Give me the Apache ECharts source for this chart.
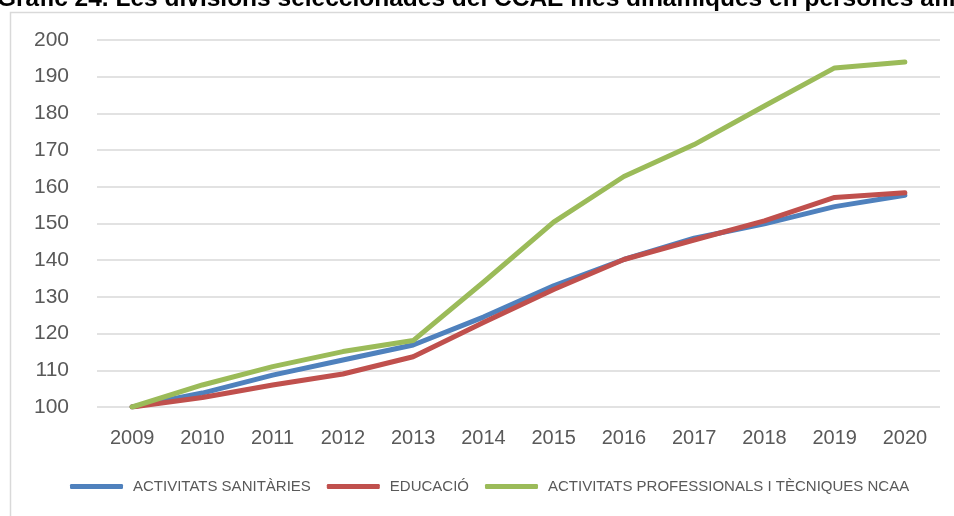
<!DOCTYPE html>
<html><head><meta charset="utf-8">
<script src="https://cdn.jsdelivr.net/npm/echarts@6/dist/echarts.min.js"></script>
<style>html,body{margin:0;padding:0;background:#fff}#c{width:954px;height:516px}</style>
</head><body><div id="c"></div>
<script>
const titleText = 'Gràfic 24. Les divisions seleccionades del CCAE més dinàmiques en persones afiliades';
const years = ['2009','2010','2011','2012','2013','2014','2015','2016','2017','2018','2019','2020'];
const sanitaries = [100, 103.8, 108.7, 112.8, 116.9, 124.5, 133.0, 140.2, 146.0, 149.9, 154.6, 157.7];
const educacio = [100, 102.6, 106.0, 109.0, 113.7, 123.0, 132.0, 140.2, 145.5, 150.7, 157.1, 158.4];
const professionals = [100, 106.0, 111.0, 115.1, 118.1, 134.0, 150.4, 162.8, 171.5, 182.0, 192.4, 194.0];
const seriesNames = ['ACTIVITATS SANITÀRIES', 'EDUCACIÓ', 'ACTIVITATS PROFESSIONALS I TÈCNIQUES NCAA'];
const colors = ['#4f81bd', '#c0504d', '#9bbb59'];
const seriesData = [sanitaries, educacio, professionals];

const chart = echarts.init(document.getElementById('c'));
chart.setOption({
  animation: false,
  title: {
    text: titleText, left: -8, top: -18,
    textStyle: {fontFamily: 'Liberation Sans', fontWeight: 'bold', fontSize: 24.5, color: '#000'}
  },
  graphic: [{
    type: 'rect', shape: {x: 10.5, y: 12.5, width: 1000, height: 600},
    style: {fill: 'none', stroke: '#d9d9d9', lineWidth: 1.5}, silent: true
  }],
  grid: {left: 97, right: 14, top: 40, bottom: 109},
  legend: {
    bottom: 17, left: 65, itemWidth: 53, itemHeight: 5, itemGap: 16,
    icon: 'roundRect',
    textStyle: {fontFamily: 'Liberation Sans', fontSize: 15, color: '#595959', padding: [0, 0, 0, 5]},
    data: seriesNames
  },
  xAxis: {
    type: 'category', data: years, boundaryGap: true,
    axisLine: {show: false}, axisTick: {show: false},
    axisLabel: {fontFamily: 'Liberation Sans', fontSize: 20, color: '#595959', margin: 21}
  },
  yAxis: {
    type: 'value', min: 100, max: 200, interval: 10,
    axisLine: {show: false}, axisTick: {show: false},
    splitLine: {lineStyle: {color: '#d9d9d9', width: 1.5}},
    axisLabel: {fontFamily: 'Liberation Sans', fontSize: 21, color: '#595959', margin: 28}
  },
  series: seriesData.map((d, i) => ({
    name: seriesNames[i], type: 'line', data: d, symbol: 'none',
    lineStyle: {color: colors[i], width: 5, cap: 'round', join: 'round'},
    itemStyle: {color: colors[i]}
  }))
});
</script></body></html>
